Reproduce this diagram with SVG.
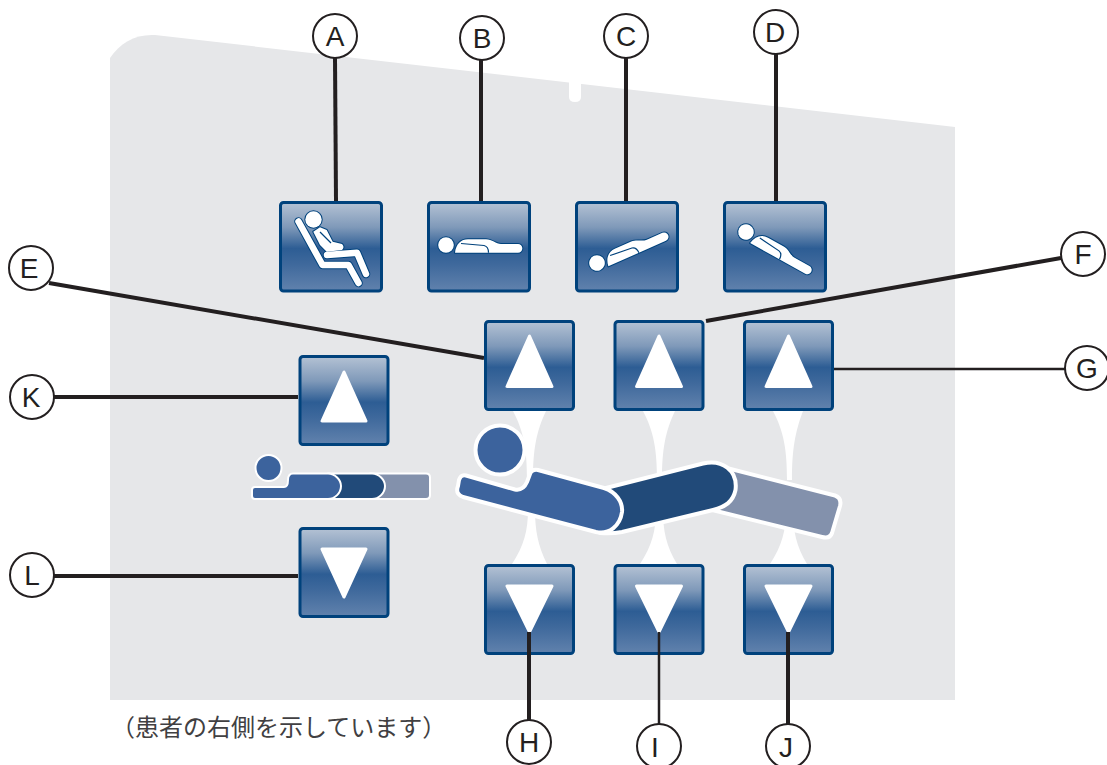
<svg xmlns="http://www.w3.org/2000/svg" xmlns:xlink="http://www.w3.org/1999/xlink" width="1107" height="765" viewBox="0 0 1107 765">
<style>
.panel{fill:#e6e7e9}
.btn{fill:url(#btnGrad);stroke:#00427c;stroke-width:3}
.tri{fill:#fff;stroke:#fff;stroke-width:3;stroke-linejoin:round}
.pillar{fill:#fff}
.conn{stroke:#231f20;stroke-width:4;fill:none}
.conn2{stroke:#231f20;stroke-width:2.500;fill:none}
.badge{fill:#fff;stroke:#231f20;stroke-width:2}
.lab{font-family:"Liberation Sans",Arial,sans-serif;font-size:28px;fill:#231f20;text-anchor:middle}
.note{font-family:"Noto Sans CJK JP",sans-serif;font-size:24px;fill:#414042;font-weight:400}
.ico{fill:#fff;stroke:#00427c;stroke-width:2;stroke-linejoin:round;paint-order:stroke}
.icol{fill:none;stroke:#00427c;stroke-width:1.200}
.cho{fill:none;stroke:#00427c;stroke-width:8.500;stroke-linecap:round;stroke-linejoin:round}
.chw{fill:none;stroke:#fff;stroke-width:6.500;stroke-linecap:round;stroke-linejoin:round}
.bd1{fill:#3c639d;stroke:#fff;stroke-width:4;stroke-linejoin:round}
.bd2{fill:#214a79;stroke:#fff;stroke-width:4;stroke-linejoin:round}
.bd3{fill:#8391ac;stroke:#fff;stroke-width:4;stroke-linejoin:round}
.sm1{fill:#3c639d;stroke:#fff;stroke-width:2;stroke-linejoin:round}
.sm2{fill:#214a79;stroke:#fff;stroke-width:2;stroke-linejoin:round}
.sm3{fill:#8391ac;stroke:#fff;stroke-width:2;stroke-linejoin:round}
</style>
<defs>
<linearGradient id="btnGrad" x1="0" y1="0" x2="0" y2="1">
<stop offset="0" stop-color="#b4c2d4"/>
<stop offset="0.28" stop-color="#7f99b9"/>
<stop offset="0.52" stop-color="#2d5d94"/>
<stop offset="0.7" stop-color="#3f699c"/>
<stop offset="1" stop-color="#6182ad"/>
</linearGradient>
<g id="flat">
<circle cx="0" cy="0" r="7.800" class="ico"/>
<path class="ico" d="M9,7.700 C10,-1 15,-5.700 22,-5.700 L40,-5.700 C46,-5.700 50,-1 55,-1 L72,-1 a4.350,4.350 0 0 1 0,8.700 Z"/>
<path class="icol" d="M15,-1.500 L38,0.500 Q42.500,1.500 42.500,7.700"/>
</g>
</defs>

<path class="panel" d="M110,58 C120,43 135,34 155,35 L955,127 L955,700 L110,700 Z"/>
<path fill="#fff" d="M569,80 L581,81 L581,97 Q581,102 575,102 Q569,102 569,97 Z"/>

<g id="pillars">
<path class="pillar" d="M513,411 C524,432 527,450 527,480 L533,480 C533,450 536,432 546,411 Z"/>
<path class="pillar" d="M643,411 C654,432 657,450 657,480 L662,480 C662,450 665,432 675,411 Z"/>
<path class="pillar" d="M773,411 C784,432 787,450 787,480 L792,480 C792,450 795,432 803,411 Z"/>
<path class="pillar" d="M512,564 C524,546 528,530 528,510 L535,510 C535,530 538,546 547,564 Z"/>
<path class="pillar" d="M640,564 C652,546 656,530 656,510 L663,510 C663,530 666,546 677,564 Z"/>
<path class="pillar" d="M770,564 C782,546 786,530 786,510 L793,510 C793,530 796,546 807,564 Z"/>
</g>

<g id="patient">
<circle cx="500" cy="450" r="24.500" class="bd1"/>
<path class="bd3" d="M715,465 L835,495.500 Q842,498 840,506 L832,533 Q830,539 822,537 L700,507 Z"/>
<path class="bd2" d="M606,488 L703,463.500 C722,459 738,470 735.500,490 C733,502 725,507 713,510 L622,532 Q612,534 600,533 Z"/>
<path class="bd1" d="M466,475.500 L515,489.500 Q523,491 527,482 L530,474 Q532,469 538,470 L604,488 C616,492 623,502 622,512 C620,526 609,535 596,532 L463,497 Q455,494 458,486 L459,480 Q461,474 466,475.500 Z"/>
</g>

<g id="mini-patient">
<circle cx="268.500" cy="468" r="13" class="sm1"/>
<path class="sm3" d="M370,473.500 L426,473.500 Q430,473.500 430,477.500 L430,495 Q430,499 426,499 L370,499 Z"/>
<path class="sm2" d="M328,473.500 L372,473.500 C379,473.500 385,480 385,486 C385,493 379,499 372,499 L328,499 Z"/>
<path class="sm1" d="M284,487 Q288,487 288,480 Q288,473.500 293,473.500 L328,473.500 C335,473.500 341,480 341,486 C341,493 335,499 328,499 L255,499 Q252,499 252,496 L252,490 Q252,487 255,487 Z"/>
</g>

<g id="connectors">
<line class="conn" x1="335" y1="58" x2="336" y2="201"/>
<line class="conn" x1="481" y1="60" x2="481" y2="201"/>
<line class="conn" x1="626" y1="58" x2="626" y2="203"/>
<line class="conn" x1="776" y1="54" x2="776" y2="201"/>
<line class="conn" x1="49" y1="283" x2="484" y2="358"/>
<line class="conn" x1="1061" y1="258" x2="706" y2="321"/>
<line class="conn2" x1="1065" y1="369" x2="834" y2="369"/>
<line class="conn" x1="53" y1="397" x2="298" y2="397"/>
<line class="conn" x1="53" y1="576" x2="298" y2="576"/>
</g>

<g id="btn-a"><rect class="btn" x="280.500" y="202.500" width="101" height="88.500" rx="3"/>
<circle cx="313.500" cy="219.500" r="8.200" class="ico"/>
<path class="cho" d="M298.500,221.500 L322.500,265 L348.500,265 L358.500,283"/>
<path class="cho" d="M327,255 L357,252.700 L366,274"/>
<path class="ico" d="M313.300,231.700 L320,227.300 L326.700,230 L332.700,241.700 L342,244 Q345,247 342,250 L326.700,251.700 L320,245 Z"/>
<path class="chw" d="M298.500,221.500 L322.500,265 L348.500,265 L358.500,283"/>
<path class="chw" d="M327,255 L357,252.700 L366,274"/>
<path class="icol" d="M320,232 L331,243"/>
</g>
<g id="btn-b"><rect class="btn" x="428.500" y="202.500" width="101" height="88.500" rx="3"/><use xlink:href="#flat" transform="translate(446,245)"/></g>
<g id="btn-c"><rect class="btn" x="576.500" y="202.500" width="101" height="88.500" rx="3"/><use xlink:href="#flat" transform="translate(597,263) rotate(-24)"/></g>
<g id="btn-d"><rect class="btn" x="724.500" y="202.500" width="101" height="88.500" rx="3"/><use xlink:href="#flat" transform="translate(746,232) rotate(29)"/></g>

<g id="btn-e"><rect class="btn" x="485.500" y="321.500" width="88" height="88" rx="3"/><path class="tri" d="M529.500,336 L507,386.500 L552,386.500 Z"/></g>
<g id="btn-f"><rect class="btn" x="615" y="321.500" width="88" height="88" rx="3"/><path class="tri" d="M659,336 L636.500,386.500 L681.500,386.500 Z"/></g>
<g id="btn-g"><rect class="btn" x="744.500" y="321.500" width="88" height="88" rx="3"/><path class="tri" d="M788.500,336 L766,386.500 L811,386.500 Z"/></g>
<g id="btn-k"><rect class="btn" x="300" y="356.500" width="88" height="88" rx="3"/><path class="tri" d="M344,372 L322,421 L366,421 Z"/></g>
<g id="btn-l"><rect class="btn" x="300" y="528.500" width="88" height="88" rx="3"/><path class="tri" d="M344,597 L322,549 L366,549 Z"/></g>
<g id="btn-h"><rect class="btn" x="485.500" y="565.500" width="88" height="88" rx="3"/><path class="tri" d="M529.500,632 L507,586 L552,586 Z"/></g>
<g id="btn-i"><rect class="btn" x="615" y="565.500" width="88" height="88" rx="3"/><path class="tri" d="M659,632 L636.500,586 L681.500,586 Z"/></g>
<g id="btn-j"><rect class="btn" x="744.500" y="565.500" width="88" height="88" rx="3"/><path class="tri" d="M788.500,632 L766,586 L811,586 Z"/></g>

<g id="connectors-lower">
<line class="conn" x1="529" y1="632" x2="529" y2="722"/>
<line class="conn2" x1="659" y1="632" x2="659" y2="726"/>
<line class="conn" x1="788" y1="632" x2="788" y2="726"/>
</g>

<g id="label-a"><circle class="badge" cx="335" cy="36" r="22"/><text class="lab" x="335" y="46">A</text></g>
<g id="label-b"><circle class="badge" cx="482" cy="38" r="22"/><text class="lab" x="482" y="48">B</text></g>
<g id="label-c"><circle class="badge" cx="626" cy="36" r="22"/><text class="lab" x="626" y="46">C</text></g>
<g id="label-d"><circle class="badge" cx="776" cy="32" r="22"/><text class="lab" x="775" y="42">D</text></g>
<g id="label-e"><circle class="badge" cx="31" cy="268" r="22"/><text class="lab" x="29" y="278">E</text></g>
<g id="label-f"><circle class="badge" cx="1083" cy="254" r="22"/><text class="lab" x="1083" y="264">F</text></g>
<g id="label-g"><circle class="badge" cx="1087" cy="368" r="22"/><text class="lab" x="1087" y="378">G</text></g>
<g id="label-k"><circle class="badge" cx="32" cy="397" r="22"/><text class="lab" x="31" y="407">K</text></g>
<g id="label-l"><circle class="badge" cx="32" cy="575" r="22"/><text class="lab" x="32" y="585">L</text></g>
<g id="label-h"><circle class="badge" cx="529" cy="742" r="22"/><text class="lab" x="529" y="752">H</text></g>
<g id="label-i"><circle class="badge" cx="659" cy="746" r="22"/><text class="lab" x="655" y="757">I</text></g>
<g id="label-j"><circle class="badge" cx="788" cy="746" r="22"/><text class="lab" x="786" y="757">J</text></g>

<text class="note" x="111" y="736">（患者の右側を示しています）</text>
</svg>
